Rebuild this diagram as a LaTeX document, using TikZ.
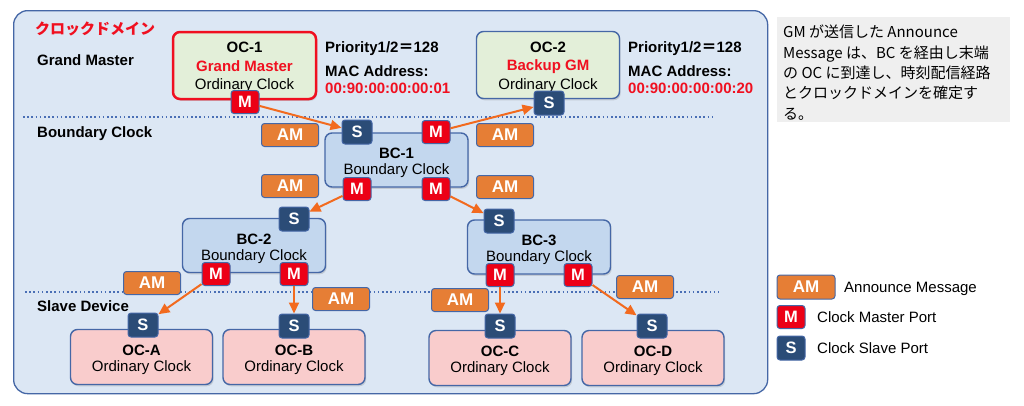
\documentclass[tikz,border=0pt]{standalone}
\usepackage{fontspec}
\setmainfont{Liberation Sans}
\newfontfamily\cjk{Noto Sans CJK JP}
\usetikzlibrary{arrows.meta,shadows}
\definecolor{cBg}{HTML}{DCE7F4}
\definecolor{cB}{HTML}{4567A6}
\definecolor{cDot}{HTML}{4A6FB5}
\definecolor{cOCg}{HTML}{E3EFD9}
\definecolor{cBC}{HTML}{C3D7EE}
\definecolor{cOCp}{HTML}{F9CCCC}
\definecolor{cM}{HTML}{EC0016}
\definecolor{cS}{HTML}{2B4C77}
\definecolor{cAM}{HTML}{E67E35}
\definecolor{cArrow}{HTML}{F26A1E}
\definecolor{cRed}{HTML}{F01020}
\definecolor{cGray}{HTML}{EFEFEF}
\newcommand\mytopstrut[1]{\rule{0pt}{#1}}
\begin{document}
\begin{tikzpicture}[x=1pt,y=-1pt,
  font=\fontsize{15}{17}\selectfont,
  container/.style={draw=cB, fill=cBg, line width=1.3pt, rounded corners=14pt, inner sep=0pt},
  sepline/.style={draw=cDot, line width=1.6pt, dash pattern=on 1.6pt off 2.6pt},
  shade/.style={drop shadow={shadow xshift=1.2pt, shadow yshift=-1.8pt, opacity=0.22, fill=black!60}},
  box/.style={draw=cB, line width=1.4pt, rounded corners=7pt, inner sep=0pt, align=center, shade},
  ocg/.style={box, fill=cOCg, minimum width=143pt, minimum height=67pt, font=\fontsize{15}{18.5}\selectfont},
  bcbox/.style={box, fill=cBC, minimum width=143pt, minimum height=54pt, font=\fontsize{15}{16}\selectfont},
  ocp/.style={box, fill=cOCp, minimum width=142pt, minimum height=55pt, font=\fontsize{15}{16}\selectfont},
  mport/.style={draw=cB, line width=1pt, fill=cM, rounded corners=3pt, minimum width=28pt, minimum height=23pt, inner sep=0pt, text=white, font=\fontsize{16.5}{16}\selectfont\bfseries},
  sport/.style={mport, fill=cS, minimum width=30pt, minimum height=24pt},
  am/.style={draw=cB, line width=1pt, fill=cAM, rounded corners=3pt, minimum width=57pt, minimum height=23pt, inner sep=0pt, text=white, font=\fontsize{17}{17}\selectfont\bfseries},
  flow/.style={draw=cArrow, line width=2pt, -{Triangle[length=11pt,width=10pt]}},
  lbl/.style={anchor=base west, inner sep=0pt, font=\fontsize{15}{17}\selectfont\bfseries},
  plain/.style={anchor=base west, inner sep=0pt, font=\fontsize{15}{17}\selectfont},
]
\useasboundingbox (0,0) rectangle (1024,405);
\fill[white] (0,0) rectangle (1024,405);

% domain container
\node[container, minimum width=754pt, minimum height=383pt, anchor=north west] (domain) at (13,10) {};

% separators
\coordinate (d1a) at (23,117); \coordinate (d1b) at (715,117);
\coordinate (d2a) at (25,292); \coordinate (d2b) at (719,292);
\draw[sepline] (d1a) -- (d1b);
\draw[sepline] (d2a) -- (d2b);

% titles
\node[anchor=base west, inner sep=0pt, text=cRed, font=\cjk\fontsize{15}{17}\selectfont\bfseries] (title) at (35,34) {クロックドメイン};
\node[lbl] (lgm) at (37,65.5) {Grand Master};
\node[lbl] (lbc) at (37,137.5) {Boundary Clock};
\node[lbl] (lsd) at (37,311.5) {Slave Device};

% priority texts
\node[lbl] (p1a) at (325,52) {Priority1/2{\cjk ＝}128};
\node[lbl] (p1b) at (325,76.5) {MAC Address:};
\node[lbl, text=cRed] (p1c) at (325,93.5) {00:90:00:00:00:01};
\node[lbl] (p2a) at (628,52) {Priority1/2{\cjk ＝}128};
\node[lbl] (p2b) at (628,76.5) {MAC Address:};
\node[lbl, text=cRed] (p2c) at (628,93.5) {00:90:00:00:00:20};

% AM labels
\node[am] (am1) at (290,135) {AM};
\node[am] (am2) at (290,186) {AM};
\node[am] (am3) at (505,135) {AM};
\node[am] (am4) at (505,187) {AM};
\node[am] (am5) at (152,283) {AM};
\node[am] (am6) at (341,299) {AM};
\node[am] (am7) at (460,300) {AM};
\node[am] (am8) at (645,287) {AM};

% clocks
\node[ocg, draw=cRed, line width=2.5pt] (oc1) at (244.5,65.5) {\mytopstrut{15pt}\textbf{OC-1}\\\textcolor{cRed}{\textbf{Grand Master}}\\Ordinary Clock};
\node[ocg] (oc2) at (548,65) {\mytopstrut{15pt}\textbf{OC-2}\\\textcolor{cRed}{\textbf{Backup GM}}\\Ordinary Clock};
\node[bcbox] (bc1) at (396.5,160) {\mytopstrut{17pt}\textbf{BC-1}\\Boundary Clock};
\node[bcbox] (bc2) at (254,245.5) {\mytopstrut{17pt}\textbf{BC-2}\\Boundary Clock};
\node[bcbox] (bc3) at (539,247) {\mytopstrut{17pt}\textbf{BC-3}\\Boundary Clock};
\node[ocp] (oca) at (141.5,357) {\mytopstrut{16.5pt}\textbf{OC-A}\\Ordinary Clock};
\node[ocp] (ocb) at (294,357) {\mytopstrut{16.5pt}\textbf{OC-B}\\Ordinary Clock};
\node[ocp] (occ) at (500,358) {\mytopstrut{16.5pt}\textbf{OC-C}\\Ordinary Clock};
\node[ocp] (ocd) at (653,358) {\mytopstrut{16.5pt}\textbf{OC-D}\\Ordinary Clock};

% ports
\node[mport] (moc1) at (245,102) {M};
\node[sport] (soc2) at (549,103) {S};
\node[sport] (sbc1) at (357,132) {S};
\node[mport] (mbc1a) at (436,132) {M};
\node[mport] (mbc1b) at (357,189) {M};
\node[mport] (mbc1c) at (436,189) {M};
\node[sport] (sbc2) at (294,219) {S};
\node[mport] (mbc2a) at (216,274) {M};
\node[mport] (mbc2b) at (294,274) {M};
\node[sport] (sbc3) at (499,221) {S};
\node[mport] (mbc3a) at (500,275) {M};
\node[mport] (mbc3b) at (578,275) {M};
\node[sport] (soca) at (143,325) {S};
\node[sport] (socb) at (294,326) {S};
\node[sport] (socc) at (500,326) {S};
\node[sport] (socd) at (652,326) {S};

% flows
\draw[flow] (moc1) -- (sbc1);
\draw[flow] (mbc1a) -- (soc2);
\draw[flow] (mbc1b) -- (sbc2);
\draw[flow] (mbc1c) -- (sbc3);
\draw[flow] (mbc2a) -- (soca);
\draw[flow] (mbc2b) -- (socb);
\draw[flow] (mbc3a) -- (socc);
\draw[flow] (mbc3b) -- (socd);

% note
\node[fill=cGray, minimum width=233pt, minimum height=105pt, inner sep=0pt, anchor=north west] (note) at (777,17) {};
\node[anchor=north west, inner sep=0pt, align=left, font=\cjk\fontsize{15}{20.3}\selectfont] (notetext) at (783,25)
 {GM が送信した Announce\\Message は、BC を経由し末端\\の OC に到達し、時刻配信経路\\とクロックドメインを確定す\\る。};

% legend
\node[am, minimum width=58pt, minimum height=24pt] (lgam) at (806,287) {AM};
\node[plain] (lgamt) at (844,292.5) {Announce Message};
\node[mport] (lgm2) at (791,317) {M};
\node[plain] (lgmt) at (817,322.5) {Clock Master Port};
\node[sport, minimum width=28pt] (lgs) at (791,348) {S};
\node[plain] (lgst) at (817,353.5) {Clock Slave Port};
\end{tikzpicture}
\end{document}
